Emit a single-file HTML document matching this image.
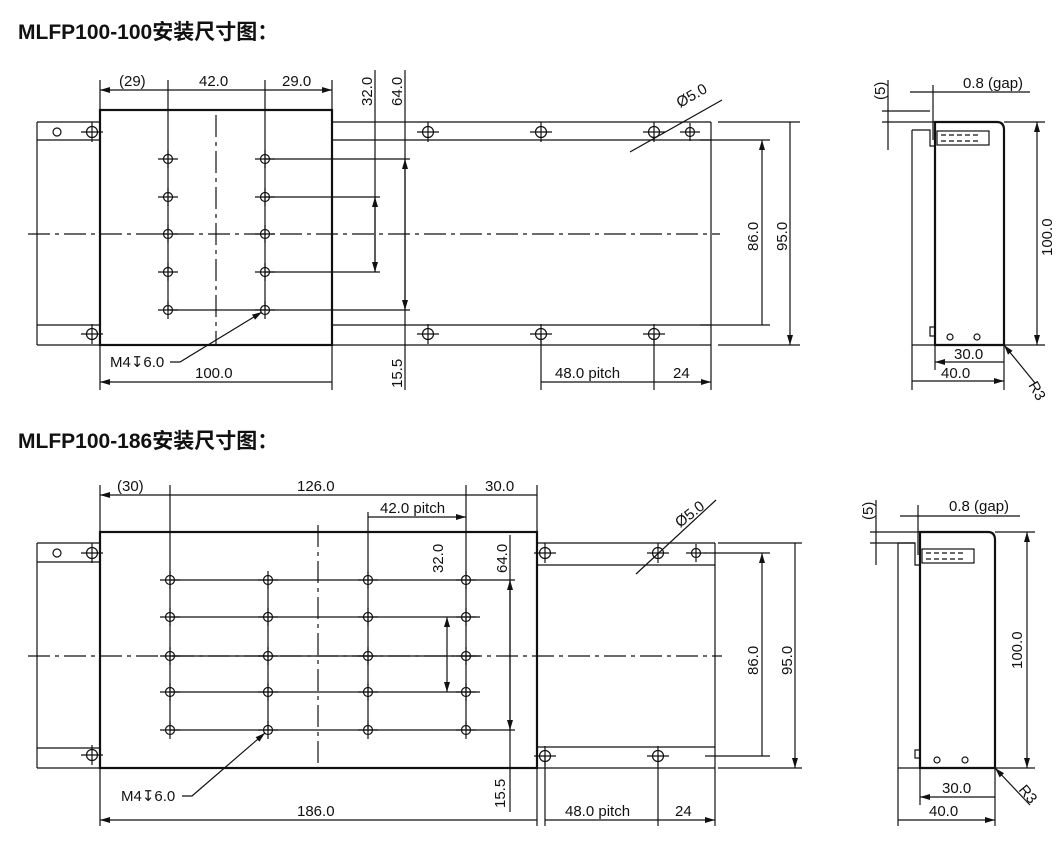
<!DOCTYPE html>
<html><head><meta charset="utf-8"><style>
body{margin:0;background:#fff;width:1063px;height:851px;overflow:hidden}
svg{display:block}
text{font-family:"Liberation Sans","Noto Sans CJK SC",sans-serif;font-size:15px;fill:#111}
.t{font-size:21px;font-weight:bold}
.k{stroke:#111;fill:none;stroke-width:1.2}
.b{stroke:#111;fill:none;stroke-width:2.2}
.c{stroke:#111;fill:none;stroke-width:1.2;stroke-dasharray:22 5 4 5}
</style></head><body>
<svg width="1063" height="851" viewBox="0 0 1063 851">
<defs>
<marker id="a" viewBox="0 0 10 6" refX="10" refY="3" markerWidth="10" markerHeight="6" orient="auto-start-reverse" markerUnits="userSpaceOnUse"><path d="M0,0L10,3L0,6z" fill="#111"/></marker>
<g id="h"><circle r="4.5" class="k" stroke-width="2.4"/><path d="M-10,0H10M0,-9V9" class="k"/></g>
<g id="H"><circle r="5.5" class="k" stroke-width="1.8"/><path d="M-11,0H11M0,-10V10" class="k"/></g>
</defs>

<text x="18" y="39" class="t">MLFP100-100安装尺寸图：</text>
<text x="18" y="448" class="t">MLFP100-186安装尺寸图：</text>

<!-- ===== TOP DRAWING ===== -->
<g>
<path class="k" d="M37,122H100M37,140H100M37,325H100M37,345H100M37,122V345"/>
<rect x="100" y="110" width="232" height="235" class="b"/>
<path class="k" d="M332,122H711M332,140H711M332,325H711M332,345H711M711,122V345"/>
<circle cx="57" cy="132" r="4" class="k"/>
<path class="c" d="M28,234H720"/>
<path class="c" d="M216,115V345"/>
<path class="k" d="M168,159V310M265,159V310M168,310H410M265,159H410M265,197H380M265,272H380"/>
<use href="#h" x="168" y="159"/><use href="#h" x="168" y="197"/><use href="#h" x="168" y="234"/><use href="#h" x="168" y="272"/><use href="#h" x="168" y="310"/>
<use href="#h" x="265" y="159"/><use href="#h" x="265" y="197"/><use href="#h" x="265" y="234"/><use href="#h" x="265" y="272"/><use href="#h" x="265" y="310"/>
<use href="#H" x="92" y="132"/><use href="#H" x="92" y="334"/>
<use href="#H" x="428" y="132"/><use href="#H" x="541" y="132"/><use href="#H" x="654" y="132"/><use href="#h" x="690" y="132"/>
<use href="#H" x="428" y="334"/><use href="#H" x="541" y="334"/><use href="#H" x="654" y="334"/>
<path class="k" d="M100,80V110M168,80V159M265,80V159M332,80V110"/>
<path class="k" d="M100,90H168M168,90H265M265,90H332" marker-start="url(#a)" marker-end="url(#a)"/>
<text x="119" y="86">(29)</text><text x="199" y="86">42.0</text><text x="282" y="86">29.0</text>
<path class="k" d="M375,70V272" /><path class="k" d="M375,197V272" marker-start="url(#a)" marker-end="url(#a)"/>
<path class="k" d="M405,70V390"/><path class="k" d="M405,159V310" marker-start="url(#a)" marker-end="url(#a)"/>
<text transform="translate(372,106) rotate(-90)">32.0</text>
<text transform="translate(402,106) rotate(-90)">64.0</text>
<text transform="translate(402,388) rotate(-90)">15.5</text>
<text x="110" y="367">M4↧6.0</text>
<path class="k" d="M170,362H180L262,312" marker-end="url(#a)"/>
<path class="k" d="M100,345V390M332,345V390M541,334V390M654,334V390M711,345V390"/>
<path class="k" d="M100,382H332M541,382H654M654,382H711" marker-start="url(#a)" marker-end="url(#a)"/>
<text x="195" y="378">100.0</text><text x="555" y="378">48.0 pitch</text><text x="673" y="378">24</text>
<path class="k" d="M700,140H770M718,122H800M718,345H800M700,325H770"/>
<path class="k" d="M762,140V325M790,122V345" marker-start="url(#a)" marker-end="url(#a)"/>
<text transform="translate(758,251) rotate(-90)">86.0</text>
<text transform="translate(787,251) rotate(-90)">95.0</text>
<path class="k" d="M630,152L722,100"/>
<text transform="translate(680,108) rotate(-30)">Ø5.0</text>
<path class="k" d="M912,130H930V146H935M935,327H930V336H935M912,130V345H935"/>
<path class="b" d="M935,122H997Q1004,122 1004,130V345H935Z"/>
<rect x="937" y="131" width="52" height="14" class="k"/>
<path class="k" d="M941,135h5m3,0h5m3,0h5m3,0h5m3,0h5M941,141h5m3,0h5m3,0h5m3,0h5m3,0h5" stroke-width="2.5"/>
<circle cx="950" cy="337" r="3" class="k" stroke-width="1.5"/><circle cx="977" cy="337" r="3" class="k" stroke-width="1.5"/>
<path class="k" d="M1004,122H1045M1004,345H1045"/>
<path class="k" d="M1037,122V345" marker-start="url(#a)" marker-end="url(#a)"/>
<text transform="translate(1052,256) rotate(-90)">100.0</text>
<path class="k" d="M935,345V370M912,345V390M1004,345V390"/>
<path class="k" d="M935,362H1004M912,381H1004" marker-start="url(#a)" marker-end="url(#a)"/>
<text x="954" y="359">30.0</text><text x="941" y="378">40.0</text>
<path class="k" d="M1035,383L1004,345" marker-end="url(#a)"/>
<text transform="translate(1028,385) rotate(60)">R3</text>
<path class="k" d="M882,111H930M882,122H935M888,80V150M933,85V140M910,92H1030"/>
<text transform="translate(885,100) rotate(-90)">(5)</text>
<text x="963" y="88">0.8 (gap)</text>
</g>

<!-- ===== BOTTOM DRAWING ===== -->
<g>
<path class="k" d="M37,543H100M37,562H100M37,748H100M37,768H100M37,543V768"/>
<rect x="100" y="532" width="437" height="236" class="b"/>
<path class="k" d="M537,543H715M537,565H715M537,747H715M537,768H715M715,543V768"/>
<circle cx="57" cy="553" r="4" class="k"/>
<path class="c" d="M28,656H722"/>
<path class="c" d="M318,525V768"/>
<path class="k" d="M170,580V730M268,580V730M368,580V730M466,580V730M170,580H515M170,617H480M170,692H480M170,730H515M170,656H480"/>
<g>
<use href="#h" x="170" y="580"/><use href="#h" x="170" y="617"/><use href="#h" x="170" y="656"/><use href="#h" x="170" y="692"/><use href="#h" x="170" y="730"/>
<use href="#h" x="268" y="580"/><use href="#h" x="268" y="617"/><use href="#h" x="268" y="656"/><use href="#h" x="268" y="692"/><use href="#h" x="268" y="730"/>
<use href="#h" x="368" y="580"/><use href="#h" x="368" y="617"/><use href="#h" x="368" y="656"/><use href="#h" x="368" y="692"/><use href="#h" x="368" y="730"/>
<use href="#h" x="466" y="580"/><use href="#h" x="466" y="617"/><use href="#h" x="466" y="656"/><use href="#h" x="466" y="692"/><use href="#h" x="466" y="730"/>
</g>
<use href="#H" x="92" y="553"/><use href="#H" x="92" y="755"/>
<use href="#H" x="545" y="553"/><use href="#H" x="658" y="553"/><use href="#h" x="696" y="553"/>
<use href="#H" x="545" y="756"/><use href="#H" x="658" y="756"/>
<path class="k" d="M100,485V532M170,485V580M466,485V580M537,485V532M368,512V580"/>
<path class="k" d="M100,495H170M170,495H466M466,495H537M368,517H466" marker-start="url(#a)" marker-end="url(#a)"/>
<text x="117" y="491">(30)</text><text x="297" y="491">126.0</text><text x="485" y="491">30.0</text><text x="380" y="513">42.0  pitch</text>
<path class="k" d="M447,617V692" marker-start="url(#a)" marker-end="url(#a)"/>
<path class="k" d="M510,535V812"/><path class="k" d="M510,580V730" marker-start="url(#a)" marker-end="url(#a)"/>
<text transform="translate(443,573) rotate(-90)">32.0</text>
<text transform="translate(507,573) rotate(-90)">64.0</text>
<text transform="translate(505,808) rotate(-90)">15.5</text>
<text x="121" y="801">M4↧6.0</text>
<path class="k" d="M182,796H192L265,733" marker-end="url(#a)"/>
<path class="k" d="M100,768V826M537,768V826M545,756V826M658,756V826M715,768V826"/>
<path class="k" d="M100,820H537M545,820H658M658,820H715" marker-start="url(#a)" marker-end="url(#a)"/>
<text x="297" y="816">186.0</text><text x="565" y="816">48.0 pitch</text><text x="675" y="816">24</text>
<path class="k" d="M705,553H770M718,543H802M718,768H802M705,756H770"/>
<path class="k" d="M762,553V756M795,543V768" marker-start="url(#a)" marker-end="url(#a)"/>
<text transform="translate(758,675) rotate(-90)">86.0</text>
<text transform="translate(792,675) rotate(-90)">95.0</text>
<path class="k" d="M636,574L716,500"/>
<text transform="translate(680,528) rotate(-38)">Ø5.0</text>
<path class="k" d="M898,543H915V565H920M920,750H915V758H920M898,543V768H920"/>
<path class="b" d="M920,532H988Q995,532 995,540V768H920Z"/>
<rect x="922" y="549" width="52" height="14" class="k"/>
<path class="k" d="M926,553h5m3,0h5m3,0h5m3,0h5m3,0h5M926,559h5m3,0h5m3,0h5m3,0h5m3,0h5" stroke-width="2.5"/>
<circle cx="937" cy="760" r="3" class="k" stroke-width="1.5"/><circle cx="965" cy="760" r="3" class="k" stroke-width="1.5"/>
<path class="k" d="M995,532H1035M995,768H1035"/>
<path class="k" d="M1027,532V768" marker-start="url(#a)" marker-end="url(#a)"/>
<text transform="translate(1022,669) rotate(-90)">100.0</text>
<path class="k" d="M920,768V805M898,768V826M995,768V826"/>
<path class="k" d="M920,797H995M898,820H995" marker-start="url(#a)" marker-end="url(#a)"/>
<text x="942" y="793">30.0</text><text x="929" y="816">40.0</text>
<path class="k" d="M1030,805L995,768" marker-end="url(#a)"/>
<text transform="translate(1018,790) rotate(50)">R3</text>
<path class="k" d="M870,532H920M870,543H915M876,500V565M918,505V555M900,516H1020"/>
<text transform="translate(873,520) rotate(-90)">(5)</text>
<text x="949" y="511">0.8 (gap)</text>
</g>
</svg>
</body></html>
